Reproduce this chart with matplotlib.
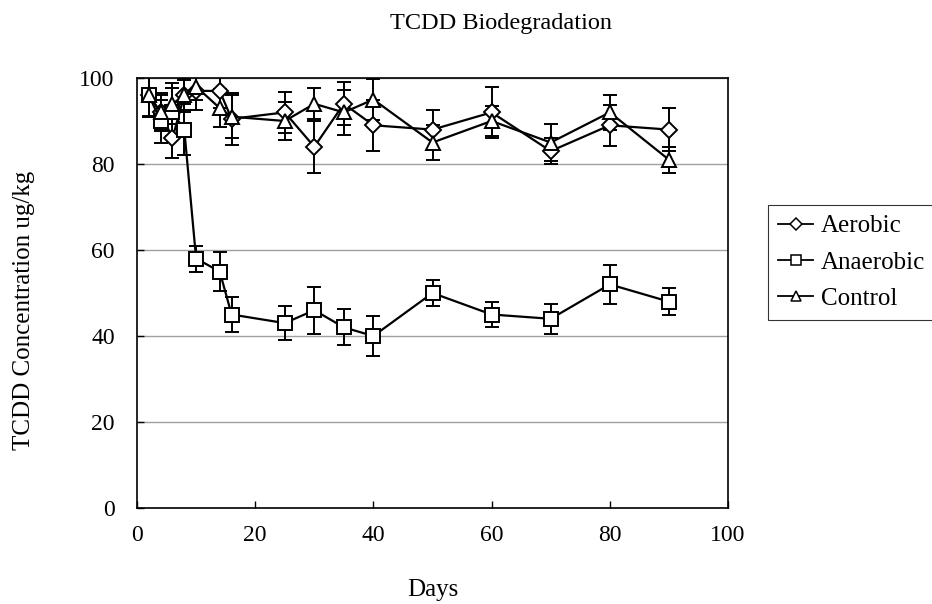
import matplotlib
matplotlib.use("Agg")
import matplotlib.pyplot as plt
from matplotlib.lines import Line2D

# Datos
dias = [2, 4, 6, 8, 10, 14, 16, 25, 30, 35, 40, 50, 60, 70, 80, 90]

aerobic = [96, 92, 86, 96, 97, 97, 90.5, 92, 84, 94, 89, 88, 92, 83, 89, 88]
aerobic_err = [5, 4, 4.5, 4, 4.5, 4, 6, 4.7, 6, 5, 6, 4.5, 6, 3, 4.7, 5]

anaerobic = [96, 90, 92, 88, 58, 55, 45, 43, 46, 42, 40, 50, 45, 44, 52, 48]
anaerobic_err = [5, 5, 5.6, 6, 3, 4.5, 4, 4, 5.5, 4.2, 4.7, 3, 3, 3.5, 4.6, 3.1]

control = [96, 92, 94, 96, 98, 93, 91, 90, 94, 92, 95, 85, 90, 85, 92, 81]
control_err = [4.8, 4.4, 4.8, 3.5, 3, 4.5, 5, 4.5, 3.6, 5.3, 4.8, 4, 3.5, 4.3, 4, 3]

series = [
    ("Aerobic", aerobic, aerobic_err, "D", 8),
    ("Anaerobic", anaerobic, anaerobic_err, "s", 10),
    ("Control", control, control_err, "^", 10),
]

plt.rcParams['font.family'] = ['Liberation Serif', 'DejaVu Serif']

fig = plt.figure(figsize=(9.32, 6.04), dpi=100)
ax = fig.add_axes([137 / 932, 1 - 508 / 604, (728 - 137) / 932, (508 - 78) / 604])

handles = []
for nombre, valores, errores, marcador, tam in series:
    ax.errorbar(dias, valores, yerr=errores, color='black', lw=1.6,
                marker=marcador, markersize=tam, markerfacecolor='white',
                markeredgecolor='black', markeredgewidth=1.4,
                ecolor='black', elinewidth=1.4, capsize=5, capthick=1.6)
    handles.append(Line2D([], [], color='black', lw=1.3, marker=marcador,
                          markersize=tam * 0.75, markerfacecolor='white',
                          markeredgecolor='black', markeredgewidth=1.1,
                          label=nombre))

ax.set_xlim(0, 100)
ax.set_ylim(0, 100)
ax.set_xticks([0, 20, 40, 60, 80, 100])
ax.set_yticks([0, 20, 40, 60, 80, 100])
ax.tick_params(direction='in', length=5, width=1, labelsize=17)
ax.tick_params(axis='x', pad=12)
ax.tick_params(axis='y', pad=16)
ax.grid(axis='y', color='#a0a0a0', lw=1)
ax.set_axisbelow(True)
for s in ax.spines.values():
    s.set_linewidth(1.2)

ax.set_xlabel('Days', fontsize=18)
ax.xaxis.set_label_coords(0.5, -0.165)
ax.set_ylabel('TCDD Concentration ug/kg', fontsize=18)
ax.yaxis.set_label_coords(-0.172, 0.46)

fig.text(501 / 932, 1 - 23 / 604, 'TCDD Biodegradation', fontsize=17.5,
         ha='center', va='center')

leg = fig.legend(handles=handles, loc='upper left',
                 bbox_to_anchor=(768 / 932, 1 - 205 / 604),
                 fontsize=18, frameon=True, fancybox=False, edgecolor='black',
                 handlelength=1.4, handletextpad=0.3, borderpad=0.4,
                 labelspacing=0.55, borderaxespad=0)
leg.get_frame().set_linewidth(0.8)

fig.savefig('out.png', dpi=100)
